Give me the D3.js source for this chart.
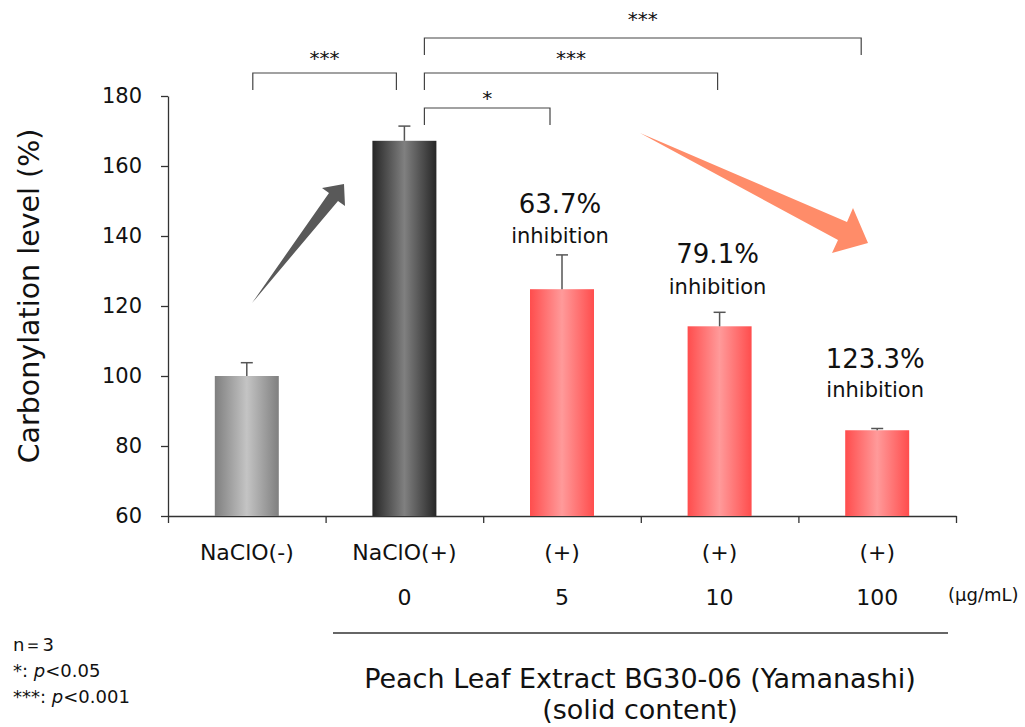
<!DOCTYPE html>
<html>
<head>
<meta charset="utf-8">
<script src="https://cdn.jsdelivr.net/npm/d3@7"></script>
<style>
  body { margin: 0; background: #fff; }
  text { font-family: "DejaVu Sans", "Noto Sans", sans-serif; fill: #111; }
</style>
</head>
<body>
<div id="plot"></div>
<script>
// data
var groups = ["NaClO(-)", "NaClO(+)", "(+)", "(+)", "(+)"];
var doses = ["", "0", "5", "10", "100"];
var values = [100, 167.2, 124.8, 114.2, 84.5];
var errors = [3.8, 4.2, 9.8, 4.0, 0.5];
var inhibition = ["", "", "63.7%", "79.1%", "123.3%"];
var yTicks = [60, 80, 100, 120, 140, 160, 180];

// significance brackets: [from index, to index, stars, level]
var brackets = [
  [0, 1, "***", 1],
  [1, 2, "*", 2],
  [1, 3, "***", 1],
  [1, 4, "***", 0]
];

var svgWidth = 1025;
var svgHeight = 727;

var svg = d3.select("#plot")
  .append("svg")
  .attr("width", svgWidth)
  .attr("height", svgHeight);

var defs = svg.append("defs");

// horizontal gradients for the bars
function addGradient(id, edge, mid) {
  var g = defs.append("linearGradient")
    .attr("id", id)
    .attr("x1", "0%").attr("x2", "100%")
    .attr("y1", "0%").attr("y2", "0%");
  g.append("stop").attr("offset", "0%").attr("stop-color", edge);
  g.append("stop").attr("offset", "50%").attr("stop-color", mid);
  g.append("stop").attr("offset", "100%").attr("stop-color", edge);
}
addGradient("gLight", "#7f7f7f", "#c4c4c4");
addGradient("gDark", "#262626", "#808080");
addGradient("gRed", "#ff4d4d", "#ff9a9a");
var fills = ["url(#gLight)", "url(#gDark)", "url(#gRed)", "url(#gRed)", "url(#gRed)"];

var x0 = 168, x1 = 956;
var yTop = 96, yBottom = 516;

var xBand = d3.scaleBand()
  .domain(d3.range(groups.length))
  .range([x0, x1])
  .paddingInner(0.594)
  .paddingOuter(0.297);

var xEdge = d3.scaleLinear()
  .domain([0, groups.length])
  .range([x0, x1]);

var y = d3.scaleLinear()
  .domain([60, 180])
  .range([yBottom, yTop]);

function cx(i) { return xBand(i) + xBand.bandwidth() / 2; }

// y axis
var yAxis = svg.append("g")
  .attr("transform", `translate(${x0}, 0)`)
  .call(d3.axisLeft(y).tickValues(yTicks).tickSize(7).tickSizeOuter(0).tickPadding(19));
yAxis.selectAll("text")
  .style("font-size", "21px")
  .style("font-family", "'DejaVu Sans', sans-serif")
  .attr("fill", "#111");
yAxis.selectAll("path, line").attr("stroke", "#333").attr("stroke-width", 1.3);

// x axis (ticks at band boundaries)
var xAxis = svg.append("g")
  .attr("transform", `translate(0, ${yBottom})`)
  .call(d3.axisBottom(xEdge).tickValues(d3.range(groups.length + 1)).tickFormat("").tickSize(7).tickSizeOuter(0));
xAxis.selectAll("path, line").attr("stroke", "#333").attr("stroke-width", 1.3);

// bars
svg.selectAll(".bar")
  .data(values)
  .enter()
  .append("rect")
  .attr("class", "bar")
  .attr("x", (d, i) => xBand(i))
  .attr("y", d => y(d))
  .attr("width", xBand.bandwidth())
  .attr("height", d => y(60) - y(d))
  .attr("fill", (d, i) => fills[i]);

// error bars (upper only)
var err = svg.append("g").attr("stroke", "#555").attr("stroke-width", 1.5);
values.forEach(function(v, i) {
  err.append("line")
    .attr("x1", cx(i)).attr("x2", cx(i))
    .attr("y1", y(v)).attr("y2", y(v + errors[i]));
  err.append("line")
    .attr("x1", cx(i) - 6).attr("x2", cx(i) + 6)
    .attr("y1", y(v + errors[i])).attr("y2", y(v + errors[i]));
});

// inhibition labels, offsets above the error bar top
var pctGap = [0, 0, 42, 49, 61];
var wordGap = [0, 0, 12, 18, 32];
values.forEach(function(v, i) {
  if (!inhibition[i]) return;
  var top = y(v + errors[i]);
  svg.append("text")
    .attr("x", cx(i) - 2)
    .attr("y", top - pctGap[i])
    .attr("text-anchor", "middle")
    .style("font-size", "26px")
    .text(inhibition[i]);
  svg.append("text")
    .attr("x", cx(i) - 2)
    .attr("y", top - wordGap[i])
    .attr("text-anchor", "middle")
    .style("font-size", "21px")
    .text("inhibition");
});

// significance brackets
var levelY = [38, 73, 108];
var starGap = [12, 8, 3];
var br = svg.append("g");
brackets.forEach(function(b) {
  var xa = b[0] === 0 ? cx(b[0]) + 6 : cx(b[0]) + 20;
  var xb = b[1] === 1 ? cx(b[1]) - 8 : cx(b[1]) - (b[1] === 4 ? 16 : (b[1] === 2 ? 12 : 2));
  var yl = levelY[b[3]];
  br.append("path")
    .attr("d", `M${xa},${yl + 17}V${yl}H${xb}V${yl + 17}`)
    .attr("fill", "none")
    .attr("stroke", "#444")
    .attr("stroke-width", 1.2);
  br.append("text")
    .attr("x", (xa + xb) / 2)
    .attr("y", yl - starGap[b[3]])
    .attr("text-anchor", "middle")
    .style("font-size", "20px")
    .text(b[2]);
});

// arrows
svg.append("path")
  .attr("d", "M252,303 L329,193 L322,188 L344,184 L345,206 L338,201 Z")
  .attr("fill", "#595959");
svg.append("path")
  .attr("d", "M640,133 L847,222 L853,208 L868,243 L832,253 L838,240 Z")
  .attr("fill", "#ff8c69");

// y label
svg.append("text")
  .attr("transform", "translate(39, 296) rotate(-90)")
  .attr("text-anchor", "middle")
  .style("font-size", "28.5px")
  .text("Carbonylation level (%)");

// category labels
svg.selectAll(".grp")
  .data(groups)
  .enter()
  .append("text")
  .attr("x", (d, i) => cx(i))
  .attr("y", 560)
  .attr("text-anchor", "middle")
  .style("font-size", "22px")
  .text(d => d);

svg.selectAll(".dose")
  .data(doses)
  .enter()
  .append("text")
  .attr("x", (d, i) => cx(i))
  .attr("y", 605)
  .attr("text-anchor", "middle")
  .style("font-size", "22px")
  .text(d => d);

svg.append("text")
  .attr("x", 948)
  .attr("y", 601)
  .style("font-size", "18px")
  .text("(μg/mL)");

svg.append("line")
  .attr("x1", 333).attr("x2", 948)
  .attr("y1", 633).attr("y2", 633)
  .attr("stroke", "#333").attr("stroke-width", 1.3);

svg.append("text")
  .attr("x", 640).attr("y", 688)
  .attr("text-anchor", "middle")
  .style("font-size", "27px")
  .text("Peach Leaf Extract BG30-06 (Yamanashi)");
svg.append("text")
  .attr("x", 640).attr("y", 719)
  .attr("text-anchor", "middle")
  .style("font-size", "27px")
  .text("(solid content)");

// notes
var notes = svg.append("g").style("font-size", "18px");
notes.append("text").attr("x", 13).attr("y", 651).text("n＝3");
var n2 = notes.append("text").attr("x", 13).attr("y", 677);
n2.append("tspan").text("*: ");
n2.append("tspan").style("font-style", "italic").text("p");
n2.append("tspan").text("<0.05");
var n3 = notes.append("text").attr("x", 13).attr("y", 703);
n3.append("tspan").text("***: ");
n3.append("tspan").style("font-style", "italic").text("p");
n3.append("tspan").text("<0.001");
</script>
</body>
</html>
